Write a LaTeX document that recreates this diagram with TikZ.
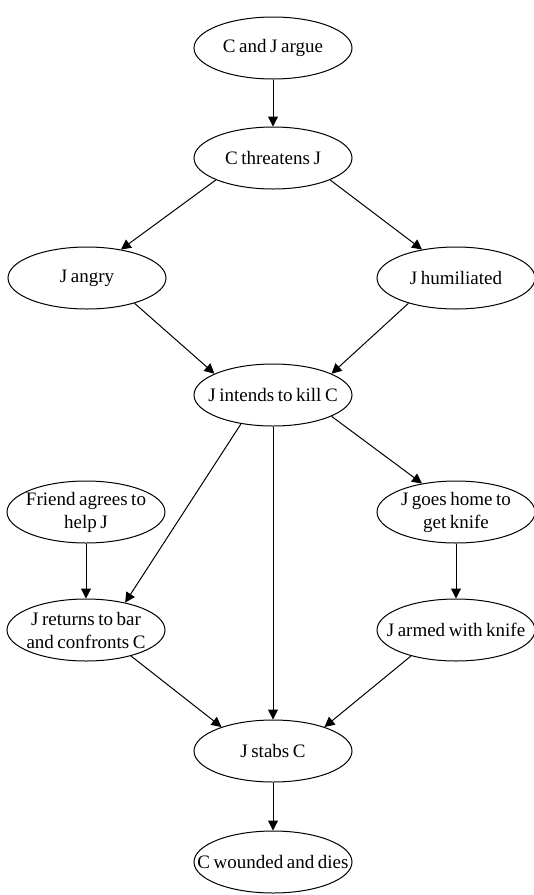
\documentclass[tikz,border=0pt]{standalone}
\usepackage{fontspec}
\setmainfont{Liberation Serif}[WordSpace=0.75]
\usetikzlibrary{shapes.geometric,arrows.meta}

\tikzset{
  event/.style={ellipse, draw, line width=1pt, inner sep=0pt,
    minimum width=158pt, minimum height=62pt},
  evtext/.style={align=center, inner sep=0pt,
    font=\fontsize{19}{23}\selectfont},
  link/.style={line width=1pt, -{Triangle[length=10pt,width=10pt]}}
}
% an event: fixed-size ellipse with its caption centred inside
\newcommand\eventnode[3]{%
  \node[event, label={[evtext]center:#3}] (#1) at (#2) {};}

\begin{document}
\begin{tikzpicture}[x=1pt, y=-1pt]
  \useasboundingbox (0,0) rectangle (534,895);

  % events
  \eventnode{argue}{273,48}{C and J argue}
  \eventnode{threat}{273,158}{C threatens J}
  \eventnode{angry}{87,278}{J angry}
  \eventnode{humil}{456,278}{J humiliated}
  \eventnode{intend}{273,395}{J intends to kill C}
  \eventnode{friend}{86,512}{Friend agrees to\\help J}
  \eventnode{home}{456,512}{J goes home to\\get knife}
  \eventnode{returns}{86,630}{J returns to bar\\and confronts C}
  \eventnode{armed}{456,630}{J armed with knife}
  \eventnode{stabs}{273,751}{J stabs C}
  \eventnode{dies}{273,862}{C wounded and dies}

  % causal links
  \draw[link] (argue.south) -- (threat.north);
  \draw[link] (threat.201) -- (angry.40);
  \draw[link] (threat.-21) -- (humil.140);
  \draw[link] (angry.-28) -- (intend.160);
  \draw[link] (humil.-152) -- (intend.20);
  \draw[link] (intend.222) -- (returns.35);
  \draw[link] (intend.south) -- (stabs.north);
  \draw[link] (intend.-20) -- (home.140);
  \draw[link] (friend.south) -- (returns.north);
  \draw[link] (home.south) -- (armed.north);
  \draw[link] (returns.-30) -- (stabs.155);
  \draw[link] (armed.-150) -- (stabs.25);
  \draw[link] (stabs.south) -- (dies.north);
\end{tikzpicture}
\end{document}
